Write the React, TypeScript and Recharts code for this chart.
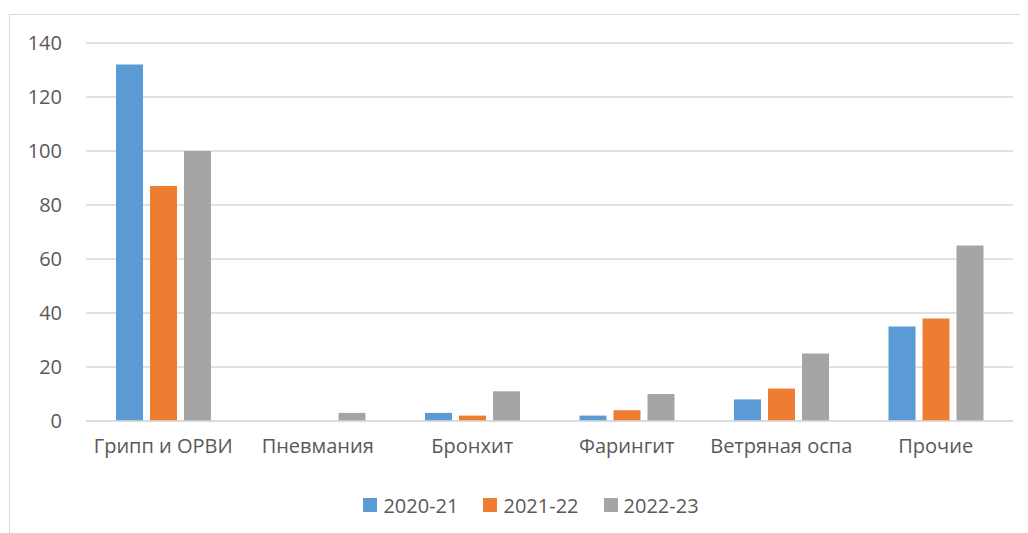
import React from 'react';
import { BarChart, Bar, XAxis, YAxis, CartesianGrid, Legend } from 'recharts';

const categories = ['Грипп и ОРВИ', 'Пневмания', 'Бронхит', 'Фарингит', 'Ветряная оспа', 'Прочие'];
const season2020 = [132, 0, 3, 2, 8, 35];
const season2021 = [87, 0, 2, 4, 12, 38];
const season2022 = [100, 3, 11, 10, 25, 65];
const yTicks = [0, 20, 40, 60, 80, 100, 120, 140];

const SERIES = [
  { key: 's1', name: '2020-21', color: '#5B9BD5' },
  { key: 's2', name: '2021-22', color: '#ED7D31' },
  { key: 's3', name: '2022-23', color: '#A5A5A5' },
];

const FONT = '"Open Sans", sans-serif';
const TEXT = '#595959';
const GRID = '#D9D9D9';

const data = categories.map((name, i) => ({
  name,
  s1: season2020[i],
  s2: season2021[i],
  s3: season2022[i],
}));

const LegendContent = () => (
  <div style={{ display: 'flex', justifyContent: 'center', alignItems: 'center', height: 36, fontFamily: FONT, fontSize: 20, color: TEXT }}>
    {SERIES.map((s, i) => (
      <div key={s.key} style={{ display: 'flex', alignItems: 'center', marginRight: i < SERIES.length - 1 ? 25 : 0 }}>
        <span style={{ display: 'inline-block', width: 14, height: 14, background: s.color, marginRight: 6 }} />
        <span>{s.name}</span>
      </div>
    ))}
  </div>
);

export default function App() {
  return (
    <div style={{ position: 'relative', width: 1020, height: 525, overflow: 'hidden' }}>
      {/* chart area frame, only left and top edges are visible */}
      <div style={{ position: 'absolute', left: 1, top: 6, width: 1100, height: 600, borderLeft: `1px solid ${GRID}`, borderTop: `1px solid ${GRID}` }} />
      <div style={{ position: 'absolute', left: 0, top: 0 }}>
        <BarChart
          width={1020}
          height={525}
          data={data}
          barGap={7}
          margin={{ top: 35, right: 15, left: 18, bottom: 10 }}
        >
          <CartesianGrid vertical={false} stroke={GRID} strokeWidth={1.5} />
          <XAxis
            dataKey="name"
            axisLine={{ stroke: GRID, strokeWidth: 1.5 }}
            tickLine={false}
            tickSize={0}
            tickMargin={18}
            height={66}
            interval={0}
            tick={{ fill: TEXT, fontSize: 20, fontFamily: FONT }}
          />
          <YAxis
            domain={[0, 140]}
            ticks={yTicks}
            axisLine={false}
            tickLine={false}
            tickSize={0}
            tickMargin={24}
            width={60}
            tick={{ fill: TEXT, fontSize: 20, fontFamily: FONT }}
          />
          <Legend verticalAlign="bottom" height={36} content={<LegendContent />} wrapperStyle={{ left: 0, width: 1046 }} />
          {SERIES.map(s => (
            <Bar key={s.key} dataKey={s.key} name={s.name} fill={s.color} barSize={27} isAnimationActive={false} />
          ))}
        </BarChart>
      </div>
    </div>
  );
}
